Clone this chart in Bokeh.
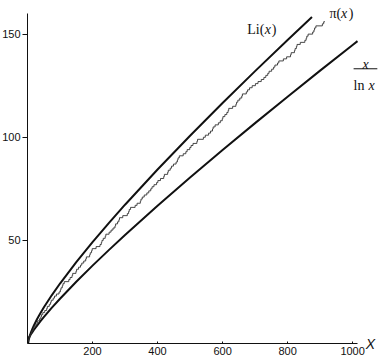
from bokeh.plotting import figure
from bokeh.models import Range1d, FixedTicker, Label
from bokeh.embed import file_html
from bokeh.resources import INLINE

# primes up to 911 (for the prime-counting staircase pi(x))
primes = [2, 3, 5, 7, 11, 13, 17, 19, 23, 29, 31, 37, 41, 43, 47, 53, 59, 61, 67, 71, 73, 79, 83, 89, 97,
          101, 103, 107, 109, 113, 127, 131, 137, 139, 149, 151, 157, 163, 167, 173, 179, 181, 191, 193, 197, 199,
          211, 223, 227, 229, 233, 239, 241, 251, 257, 263, 269, 271, 277, 281, 283, 293,
          307, 311, 313, 317, 331, 337, 347, 349, 353, 359, 367, 373, 379, 383, 389, 397,
          401, 409, 419, 421, 431, 433, 439, 443, 449, 457, 461, 463, 467, 479, 487, 491, 499,
          503, 509, 521, 523, 541, 547, 557, 563, 569, 571, 577, 587, 593, 599,
          601, 607, 613, 617, 619, 631, 641, 643, 647, 653, 659, 661, 673, 677, 683, 691,
          701, 709, 719, 727, 733, 739, 743, 751, 757, 761, 769, 773, 787, 797,
          809, 811, 821, 823, 827, 829, 839, 853, 857, 859, 863, 877, 881, 883, 887,
          907, 911]
pi_end_x = 915

# Li(x) samples
li_x = [2, 3, 4, 5, 7, 10, 15, 20, 30, 40, 50, 75, 100, 150, 200, 250, 300, 400, 500, 600, 700, 800, 875]
li_y = [0.0, 1.118, 1.922, 2.589, 3.712, 5.120, 7.110, 8.860, 11.978, 14.795, 17.424, 23.482, 29.081,
        39.457, 49.150, 58.387, 67.292, 84.376, 100.752, 116.605, 132.047, 147.155, 158.31]

# x / ln x samples
xl_x = [2, 3, 5, 7, 10, 15, 20, 30, 40, 50, 75, 100, 150, 200, 250, 300, 400, 500, 600, 700, 800, 900, 1000, 1015]
xl_y = [2.885, 2.731, 3.107, 3.597, 4.343, 5.539, 6.676, 8.820, 10.843, 12.781, 17.371, 21.715, 29.936,
        37.748, 45.278, 52.597, 66.761, 80.455, 93.795, 106.852, 119.678, 132.306, 144.765, 146.6]

x_ticks = [200, 400, 600, 800, 1000]
y_ticks = [50, 100, 150]

pi_x = primes + [pi_end_x]
pi_y = list(range(1, len(primes) + 1)) + [len(primes)]

p = figure(width=380, height=360, output_backend="svg", toolbar_location=None,
           x_range=Range1d(-83.05, 1085.75), y_range=Range1d(-8.24, 166.3),
           min_border_left=0, min_border_right=0, min_border_top=0, min_border_bottom=0)
p.outline_line_color = None
p.xgrid.visible = False
p.ygrid.visible = False

for ax in (p.xaxis[0], p.yaxis[0]):
    ax.fixed_location = 0
    ax.axis_line_color = "#111111"
    ax.axis_line_width = 1
    ax.major_tick_line_color = "#111111"
    ax.minor_tick_line_color = None
    ax.major_label_text_font = "Liberation Sans"
    ax.major_label_text_font_size = "11px"
    ax.major_label_text_color = "#111111"

p.xaxis.ticker = FixedTicker(ticks=x_ticks)
p.yaxis.ticker = FixedTicker(ticks=y_ticks)
p.xaxis.bounds = (0, 1015)
p.yaxis.bounds = (0, 160)
p.xaxis.major_tick_in = 2
p.xaxis.major_tick_out = 0
p.xaxis.major_label_standoff = 3
p.yaxis.major_tick_in = 0
p.yaxis.major_tick_out = 5
p.yaxis.major_label_standoff = 2

p.line(li_x, li_y, line_color="#111111", line_width=2)
p.line(xl_x, xl_y, line_color="#111111", line_width=2)
p.step(pi_x, pi_y, mode="after", line_color="#333333", line_width=0.9)

serif = "Liberation Serif"
fs = "14px"

def lab(x, y, text, style="normal", font=serif, size=fs, align="left", baseline="alphabetic"):
    p.add_layout(Label(x=x, y=y, text=text, text_font=font, text_font_size=size,
                       text_font_style=style, text_color="#111111",
                       text_align=align, text_baseline=baseline))

# Li(x)
lab(676, 152.0, "Li(")
lab(730, 152.0, "x", style="italic")
lab(751, 152.0, ")")
# pi(x)
lab(929, 159.8, "π(")
lab(964, 159.8, "x", style="italic")
lab(988, 159.8, ")")
# x / ln x
lab(1040, 135.3, "x", style="italic", align="center")
p.segment([1003], [133.2], [1076], [133.2], line_color="#111111", line_width=1)
lab(1003, 125.1, "ln")
lab(1049, 125.1, "x", style="italic")
# axis label X
lab(1040, 0, "X", style="italic", font="Liberation Sans", size="14px", baseline="middle")

open("out.html", "w").write(file_html(p, INLINE))
